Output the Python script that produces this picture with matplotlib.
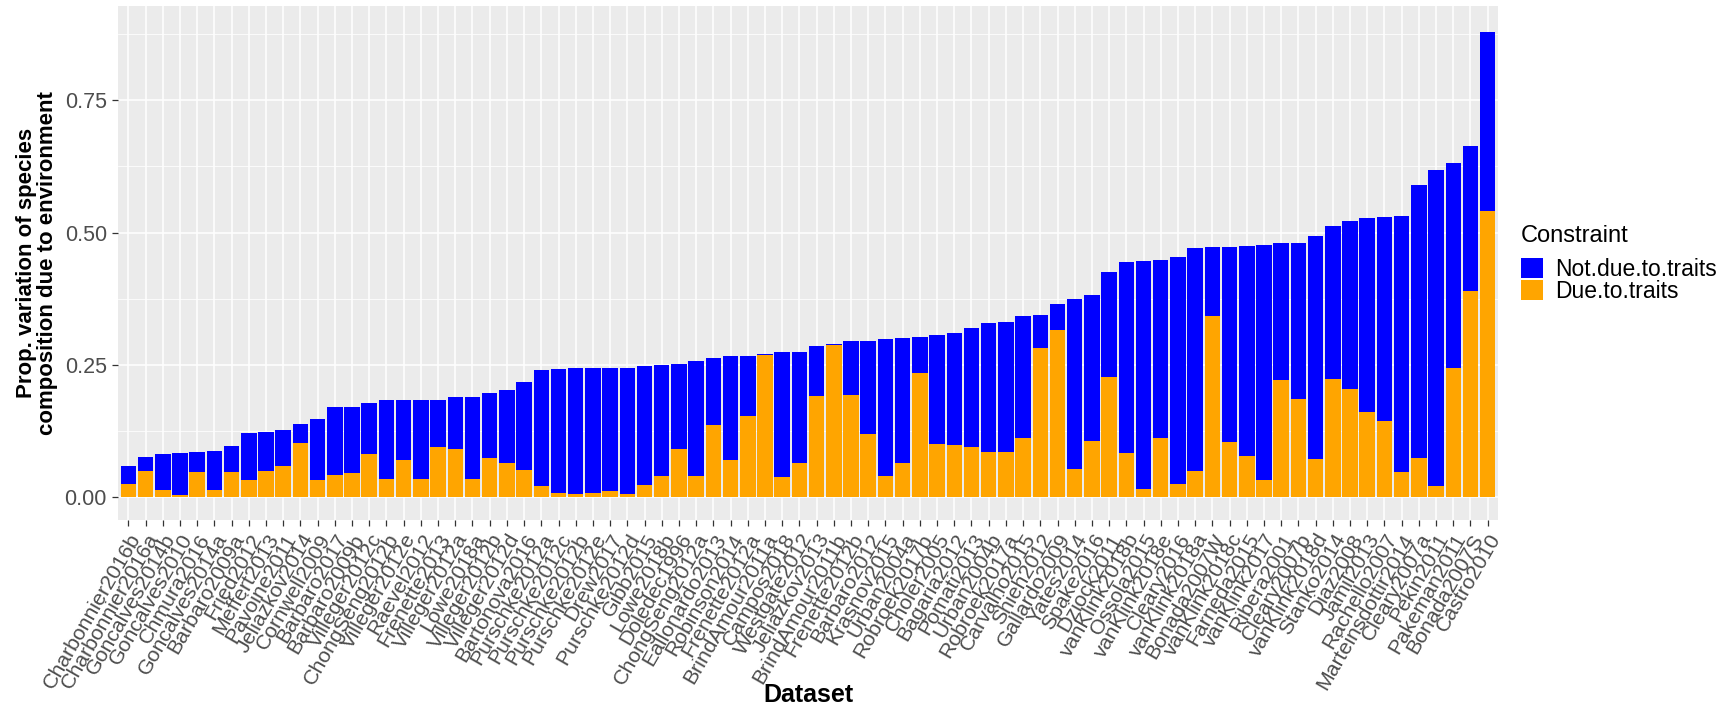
import numpy as np
import matplotlib
matplotlib.use("Agg")
import matplotlib.pyplot as plt
from matplotlib.patches import Patch

plt.rcParams['font.family'] = ['Liberation Sans', 'DejaVu Sans']

datasets = [
    "Charbonnier2016b", "Charbonnier2016a", "Goncalves2014b", "Goncalves2010", "Chmura2016",
    "Goncalves2014a", "Barbaro2009a", "Fried2012", "Meffert2013", "Pavoine2011",
    "Jeliazkov2014", "Cornwell2009", "Barbaro2017", "Barbaro2009b", "Villeger2012c",
    "ChongSeng2012b", "Villeger2012e", "Raevel2012", "Frenette2013", "Villeger2012a",
    "Lowe2018a", "Villeger2012b", "Villeger2012d", "Bartonova2016", "Purschke2012a",
    "Purschke2012c", "Purschke2012b", "Purschke2012e", "Drew2017", "Purschke2012d",
    "Gibb2015", "Lowe2018b", "Doledec1996", "ChongSeng2012a", "Eallonardo2013",
    "Robinson2014", "Frenette2012a", "BrindAmour2011a", "Campos2018", "Westgate2012",
    "Jeliazkov2013", "BrindAmour2011b", "Frenette2012b", "Barbaro2012", "Krasnov2015",
    "Urban2004a", "Robroek2017b", "Choler2005", "Bagaria2012", "Pomati2013",
    "Urban2004b", "Robroek2017a", "Carvalho2015", "Shieh2012", "Gallardo2009",
    "Yates2014", "Spake2016", "Dziock2011", "vanKlink2018b", "Ossola2015",
    "vanKlink2018e", "Cleary2016", "vanKlink2018a", "Bonada2007W", "vanKlink2018c",
    "Farneda2015", "vanKlink2017", "Ribera2001", "Cleary2007b", "vanKlink2018d",
    "Stanko2014", "Diaz2008", "Jamil2013", "Rachello2007", "Marteinsdottir2014",
    "Cleary2007a", "Pekin2011", "Pakeman2011", "Bonada2007S", "Castro2010",
]

# share of variation explained through traits
due_traits = [
    0.025, 0.048, 0.012, 0.004, 0.046, 0.013, 0.046, 0.031, 0.048, 0.058,
    0.102, 0.031, 0.042, 0.044, 0.081, 0.033, 0.069, 0.033, 0.094, 0.090,
    0.033, 0.073, 0.063, 0.050, 0.020, 0.008, 0.005, 0.007, 0.011, 0.006,
    0.023, 0.040, 0.090, 0.040, 0.135, 0.069, 0.152, 0.268, 0.037, 0.063,
    0.190, 0.288, 0.192, 0.119, 0.040, 0.063, 0.235, 0.100, 0.098, 0.094,
    0.085, 0.085, 0.112, 0.281, 0.315, 0.052, 0.106, 0.227, 0.083, 0.015,
    0.112, 0.025, 0.048, 0.342, 0.104, 0.077, 0.031, 0.221, 0.185, 0.071,
    0.223, 0.204, 0.160, 0.144, 0.046, 0.073, 0.021, 0.244, 0.390, 0.540,
]

# share of variation not explained through traits
not_due_traits = [
    0.033, 0.027, 0.069, 0.079, 0.039, 0.074, 0.050, 0.090, 0.075, 0.069,
    0.036, 0.117, 0.127, 0.125, 0.096, 0.150, 0.114, 0.150, 0.089, 0.098,
    0.155, 0.123, 0.139, 0.167, 0.220, 0.234, 0.239, 0.237, 0.233, 0.238,
    0.225, 0.210, 0.162, 0.216, 0.127, 0.198, 0.115, 0.002, 0.236, 0.210,
    0.095, 0.002, 0.102, 0.175, 0.258, 0.237, 0.067, 0.206, 0.212, 0.225,
    0.244, 0.246, 0.230, 0.063, 0.050, 0.323, 0.275, 0.198, 0.361, 0.431,
    0.336, 0.429, 0.423, 0.131, 0.369, 0.398, 0.446, 0.260, 0.296, 0.423,
    0.289, 0.317, 0.367, 0.385, 0.485, 0.517, 0.598, 0.387, 0.273, 0.339,
]

yticks = [0.0, 0.25, 0.5, 0.75]

fig = plt.figure(figsize=(17.28, 7.07), dpi=100)
ax = fig.add_axes([0.0683, 0.2645, 0.7986, 0.7265])

x = np.arange(1, len(datasets) + 1)
ax.bar(x, due_traits, width=0.9, color="#FFA500", zorder=3)
ax.bar(x, not_due_traits, width=0.9, bottom=due_traits, color="#0000FF", zorder=3)

ax.set_facecolor("#EBEBEB")
ax.set_xlim(0.4, len(datasets) + 0.6)
ax.set_ylim(-0.044, 0.928)
ax.set_yticks(yticks)
ax.set_yticklabels(["0.00", "0.25", "0.50", "0.75"])
ax.set_yticks([0.125, 0.375, 0.625, 0.875], minor=True)
ax.set_xticks(x)
ax.set_xticklabels(datasets, rotation=60, ha="right", va="top", rotation_mode="anchor")
ax.grid(True, which="major", color="white", linewidth=1.1, zorder=0)
ax.grid(True, which="minor", axis="y", color="white", linewidth=0.55, zorder=0)
ax.set_axisbelow(True)
for s in ax.spines.values():
    s.set_visible(False)
ax.tick_params(axis="both", which="major", length=4.5, width=0.9, color="#333333",
               labelcolor="#4D4D4D")
ax.tick_params(axis="x", labelsize=15.3, pad=3)
ax.tick_params(axis="y", labelsize=15.5)
ax.tick_params(axis="y", which="minor", length=0)

ax.set_xlabel("Dataset", fontsize=18, fontweight="bold")
ax.xaxis.set_label_coords(0.5, -0.318)
ax.set_ylabel("Prop. variation of species\ncomposition due to environment",
              fontsize=16, fontweight="bold", labelpad=5, linespacing=1.0)

# legend: title placed on its own so the gap above the keys matches
ax.text(1.0165, 0.5525, "Constraint", transform=ax.transAxes, fontsize=17,
        ha="left", va="center")
handles = [Patch(facecolor="#0000FF", label="Not.due.to.traits"),
           Patch(facecolor="#FFA500", label="Due.to.traits")]
leg = ax.legend(handles=handles, loc="center left",
                bbox_to_anchor=(1.0165, 0.467), frameon=False, fontsize=16.5,
                handlelength=0.95, handleheight=1.0, handletextpad=0.55,
                labelspacing=-0.05, borderpad=0.0, borderaxespad=0.0)

fig.savefig("out.png", dpi=100)
